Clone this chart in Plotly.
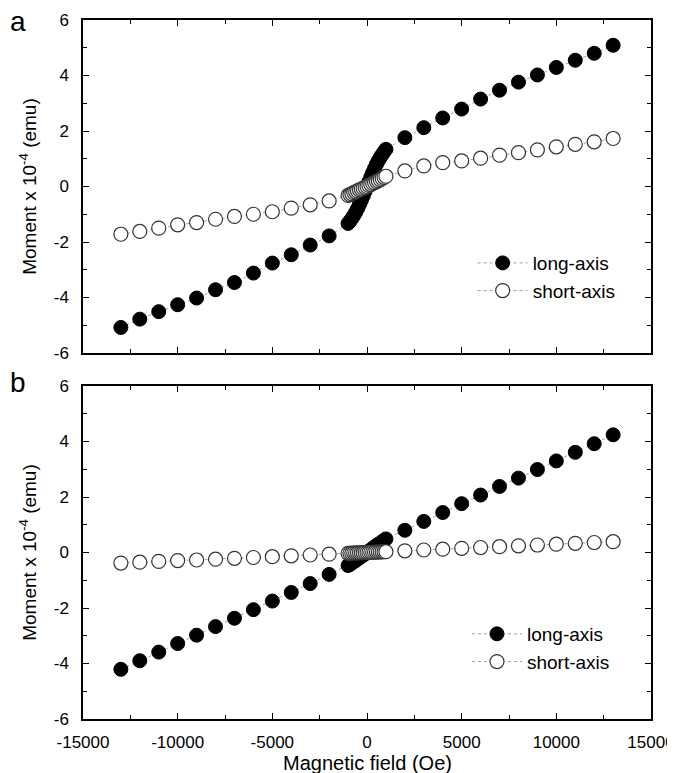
import plotly.graph_objects as go
from plotly.subplots import make_subplots

# ---- data ----
field = [-13000, -12000, -11000, -10000, -9000, -8000, -7000, -6000, -5000, -4000, -3000, -2000,
         -1000, -900, -800, -700, -600, -500, -400, -300, -200, -100, 0,
         100, 200, 300, 400, 500, 600, 700, 800, 900, 1000,
         2000, 3000, 4000, 5000, 6000, 7000, 8000, 9000, 10000, 11000, 12000, 13000]

a_long = [-5.08, -4.78, -4.51, -4.26, -4.02, -3.72, -3.46, -3.12, -2.76, -2.46, -2.11, -1.78,
          -1.33, -1.25, -1.15, -1.05, -0.93, -0.80, -0.65, -0.50, -0.34, -0.17, 0.00,
          0.17, 0.34, 0.50, 0.65, 0.80, 0.93, 1.05, 1.15, 1.25, 1.34,
          1.76, 2.12, 2.47, 2.79, 3.15, 3.47, 3.76, 4.02, 4.29, 4.55, 4.80, 5.09]

a_short = [-1.72, -1.62, -1.50, -1.38, -1.30, -1.18, -1.08, -1.00, -0.91, -0.78, -0.66, -0.52,
           -0.32, -0.29, -0.26, -0.22, -0.19, -0.16, -0.12, -0.09, -0.06, -0.03, 0.00,
           0.04, 0.07, 0.11, 0.14, 0.18, 0.21, 0.25, 0.29, 0.33, 0.37,
           0.56, 0.74, 0.86, 0.92, 1.02, 1.13, 1.22, 1.32, 1.43, 1.52, 1.61, 1.73]

b_long = [-4.21, -3.90, -3.59, -3.28, -2.98, -2.67, -2.37, -2.06, -1.75, -1.44, -1.12, -0.79,
          -0.47, -0.43, -0.38, -0.33, -0.29, -0.24, -0.19, -0.14, -0.10, -0.05, 0.00,
          0.05, 0.10, 0.15, 0.20, 0.25, 0.30, 0.34, 0.39, 0.44, 0.49,
          0.80, 1.12, 1.44, 1.76, 2.07, 2.38, 2.68, 2.99, 3.30, 3.61, 3.92, 4.24]

b_short = [-0.38, -0.35, -0.32, -0.29, -0.27, -0.24, -0.21, -0.18, -0.15, -0.12, -0.09, -0.06,
           -0.03, -0.027, -0.024, -0.021, -0.018, -0.015, -0.012, -0.009, -0.006, -0.003, 0.00,
           0.003, 0.006, 0.009, 0.012, 0.015, 0.018, 0.021, 0.024, 0.027, 0.03,
           0.06, 0.09, 0.12, 0.15, 0.18, 0.21, 0.24, 0.27, 0.30, 0.33, 0.36, 0.39]

series_names = ["long-axis", "short-axis"]
x_ticks = [-15000, -10000, -5000, 0, 5000, 10000, 15000]
x_labels = ["-15000", "-10000", "-5000", "0", "5000", "10000", "15000"]
y_ticks = [-6, -4, -2, 0, 2, 4, 6]
y_labels = ["-6", "-4", "-2", "0", "2", "4", "6"]

FONT = "Liberation Sans, Arial, sans-serif"
W, H = 675, 773
ML, MR, MT, MB = 75, 32, 12, 62
ph = H - MT - MB          # 699
A_H, B_H = 333, 333       # panel heights in px

fig = make_subplots(rows=2, cols=1, shared_xaxes=False)
fig.update_layout(yaxis=dict(domain=[1 - A_H / ph, 1]), yaxis2=dict(domain=[0, B_H / ph]))

def add(row, yl, ys, legend):
    fig.add_trace(go.Scatter(
        x=field, y=yl, name=series_names[0], mode="lines+markers",
        line=dict(color="#a0a0a0", width=1, dash="dot"),
        marker=dict(symbol="circle", size=14, color="black", line=dict(color="black", width=1)),
        legend=legend), row=row, col=1)
    fig.add_trace(go.Scatter(
        x=field, y=ys, name=series_names[1], mode="lines+markers",
        line=dict(color="#a0a0a0", width=1, dash="dot"),
        marker=dict(symbol="circle", size=14, color="white", line=dict(color="#333333", width=1.2)),
        legend=legend), row=row, col=1)

add(1, a_long, a_short, "legend")
add(2, b_long, b_short, "legend2")

axis_common = dict(showline=True, linecolor="black", linewidth=1.5, mirror="ticks",
                   ticks="inside", ticklen=6, tickwidth=1.3, tickcolor="black",
                   showgrid=False, zeroline=False, automargin=False,
                   tickfont=dict(family=FONT, size=17, color="black"))
minor_x = dict(dtick=2500, ticks="inside", ticklen=4, tickwidth=1.2, tickcolor="black", showgrid=False)
minor_y = dict(dtick=1, ticks="inside", ticklen=4, tickwidth=1.2, tickcolor="black", showgrid=False)

for r in (1, 2):
    fig.update_xaxes(range=[-15000, 15000], tickvals=x_ticks, ticktext=x_labels, minor=minor_x,
                     showticklabels=(r == 2), ticklabelstandoff=7, ticklabeloverflow="allow",
                     row=r, col=1, **axis_common)
    fig.update_yaxes(range=[-6, 6], tickvals=y_ticks, ticktext=y_labels, minor=minor_y, row=r, col=1,
                     ticklabelstandoff=9,
                     title=dict(text="Moment x 10<sup>-4</sup> (emu)",
                                font=dict(family=FONT, size=19, color="black"), standoff=12),
                     **axis_common)

leg = dict(bgcolor="rgba(0,0,0,0)", font=dict(family=FONT, size=19, color="black"),
           xanchor="left", yanchor="top", tracegroupgap=0, itemwidth=50)

fig.update_layout(
    width=W, height=H, margin=dict(l=ML, r=MR, t=MT, b=MB),
    plot_bgcolor="white", paper_bgcolor="white",
    legend=dict(x=0.686, y=0.6795, **leg),
    legend2=dict(x=0.676, y=0.1488, **leg),
    annotations=[
        dict(text="a", x=-0.132, y=1.0229, xref="paper", yref="paper", showarrow=False,
             xanchor="left", yanchor="top", font=dict(family=FONT, size=28, color="black")),
        dict(text="b", x=-0.132, y=0.5064, xref="paper", yref="paper", showarrow=False,
             xanchor="left", yanchor="top", font=dict(family=FONT, size=28, color="black")),
        dict(text="Magnetic field (Oe)", x=0.5, y=-0.0629, xref="paper", yref="paper",
             showarrow=False, xanchor="center", yanchor="middle",
             font=dict(family=FONT, size=20, color="black")),
    ],
)

fig.write_html("out.html")
